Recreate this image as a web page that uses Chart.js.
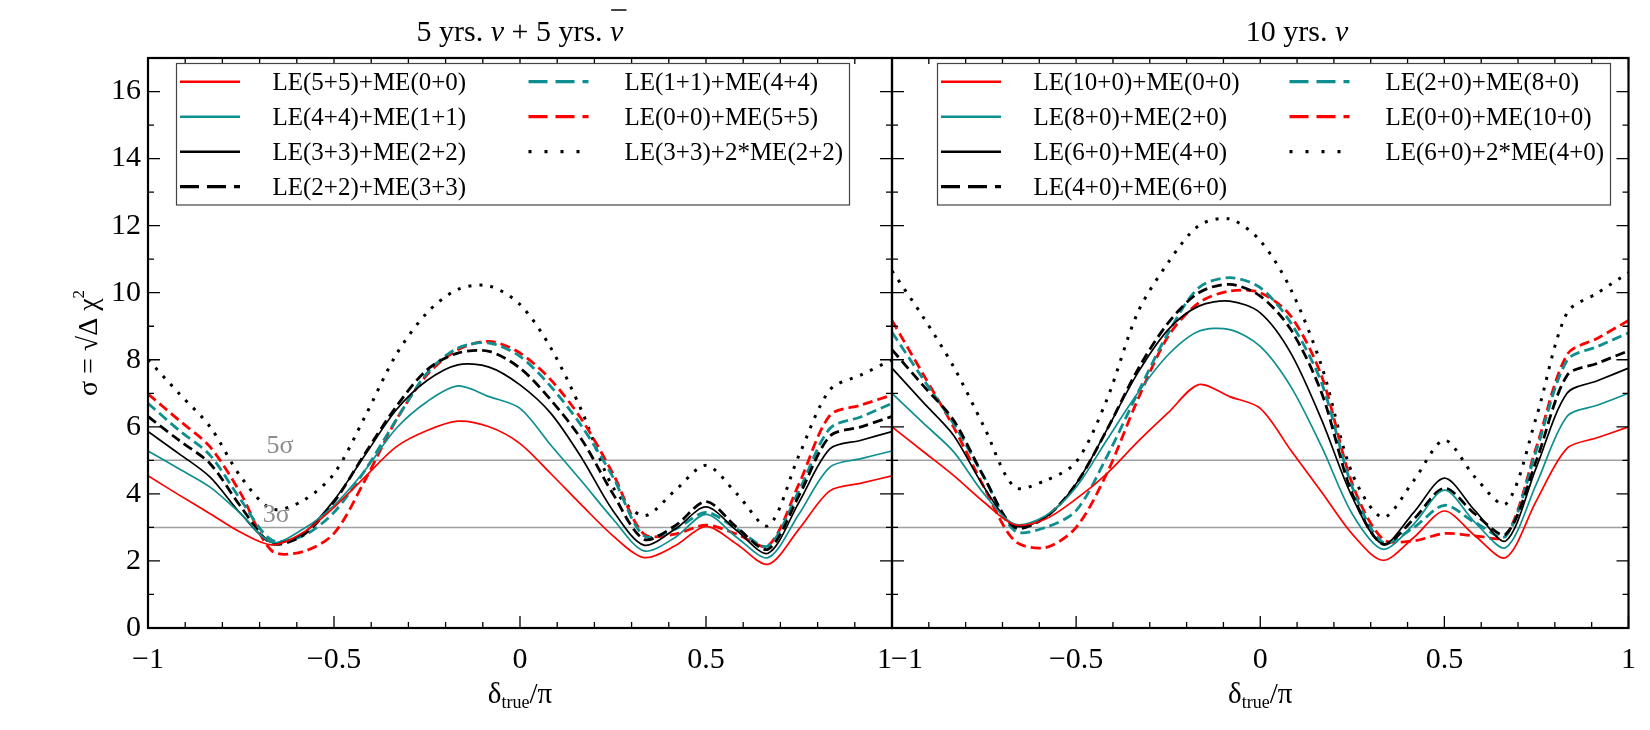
<!DOCTYPE html>
<html>
<head>
<meta charset="utf-8">
<script src="https://cdn.jsdelivr.net/npm/chart.js@4/dist/chart.umd.min.js"></script>
<style>
  html, body { margin: 0; padding: 0; background: #fff; }
  #wrap { position: relative; width: 1650px; height: 730px; }
  #wrap canvas { position: absolute; left: 0; top: 0; }
</style>
</head>
<body>
<div id="wrap">
  <canvas id="left" width="1650" height="730"></canvas>
  <canvas id="right" width="1650" height="730"></canvas>
</div>
<script>
// delta_true / pi sample points
const deltaX = [-1, -0.917, -0.833, -0.75, -0.667, -0.583, -0.5, -0.417, -0.333, -0.25, -0.167, -0.083,
  0, 0.083, 0.167, 0.25, 0.333, 0.417, 0.5, 0.583, 0.667, 0.75, 0.833, 0.917, 1];

// left panel: 5 yrs nu + 5 yrs nubar
const leftLabels = ['LE(5+5)+ME(0+0)', 'LE(4+4)+ME(1+1)', 'LE(3+3)+ME(2+2)', 'LE(2+2)+ME(3+3)',
  'LE(1+1)+ME(4+4)', 'LE(0+0)+ME(5+5)', 'LE(3+3)+2*ME(2+2)'];
const leftLE55 = [4.54, 3.97, 3.41, 2.85, 2.48, 2.85, 3.6, 4.5, 5.4, 5.89, 6.17, 6.0, 5.5, 4.6, 3.65, 2.75, 2.1, 2.45, 3.03, 2.5, 1.9, 2.95, 4.09, 4.32, 4.54];
const leftLE44 = [5.28, 4.75, 4.2, 3.4, 2.55, 2.95, 3.66, 4.7, 5.95, 6.75, 7.22, 6.9, 6.55, 5.45, 4.36, 3.25, 2.3, 2.7, 3.39, 2.7, 2.1, 3.4, 4.8, 5.05, 5.28];
const leftLE33 = [5.86, 5.2, 4.5, 3.4, 2.55, 2.82, 3.81, 5.15, 6.5, 7.38, 7.85, 7.78, 7.25, 6.4, 5.05, 3.5, 2.47, 2.95, 3.61, 2.9, 2.23, 3.75, 5.34, 5.6, 5.86];
const leftLE22 = [6.31, 5.6, 4.9, 3.61, 2.52, 2.77, 3.76, 5.2, 6.6, 7.7, 8.2, 8.25, 7.75, 6.8, 5.6, 4.0, 2.65, 3.05, 3.77, 3.0, 2.35, 3.95, 5.72, 6.0, 6.31];
const leftLE11 = [6.7, 5.9, 5.15, 3.81, 2.62, 2.75, 3.45, 4.7, 6.2, 7.6, 8.35, 8.5, 8.1, 7.2, 6.0, 4.5, 2.75, 2.95, 3.45, 2.95, 2.45, 4.1, 5.95, 6.3, 6.7];
const leftLE00 = [6.98, 6.2, 5.4, 4.0, 2.3, 2.28, 2.82, 4.4, 6.2, 7.55, 8.3, 8.55, 8.2, 7.4, 6.2, 4.6, 2.8, 2.8, 3.07, 2.8, 2.45, 4.3, 6.34, 6.65, 6.95];
const leftDouble = [8.0, 7.0, 6.0, 4.5, 3.55, 3.8, 4.6, 6.3, 8.15, 9.4, 10.1, 10.2, 9.65, 8.35, 6.45, 4.2, 3.35, 4.1, 4.85, 4.0, 3.05, 5.15, 7.1, 7.55, 8.0];

// right panel: 10 yrs nu
const rightLabels = ['LE(10+0)+ME(0+0)', 'LE(8+0)+ME(2+0)', 'LE(6+0)+ME(4+0)', 'LE(4+0)+ME(6+0)',
  'LE(2+0)+ME(8+0)', 'LE(0+0)+ME(10+0)', 'LE(6+0)+2*ME(4+0)'];
const rightLE10 = [6.0, 5.28, 4.55, 3.75, 3.08, 3.25, 3.85, 4.6, 5.55, 6.42, 7.26, 6.9, 6.55, 5.3, 4.05, 2.8, 2.02, 2.7, 3.49, 2.75, 2.1, 3.8, 5.36, 5.68, 6.0];
const rightLE8 = [7.0, 6.13, 5.26, 4.0, 3.1, 3.35, 4.2, 5.6, 7.0, 8.15, 8.85, 8.9, 8.4, 7.2, 5.4, 3.4, 2.35, 3.1, 4.11, 3.15, 2.4, 4.3, 6.31, 6.65, 7.0];
const rightLE6 = [7.75, 6.75, 5.75, 4.2, 3.05, 3.3, 4.3, 5.9, 7.6, 8.9, 9.6, 9.75, 9.4, 8.2, 6.2, 3.9, 2.5, 3.45, 4.47, 3.5, 2.6, 4.8, 7.0, 7.38, 7.75];
const rightLE4 = [8.3, 7.25, 6.2, 4.5, 3.0, 3.3, 4.3, 5.9, 7.7, 9.1, 10.0, 10.25, 9.9, 8.9, 7.0, 4.0, 2.5, 3.25, 4.17, 3.4, 2.8, 5.0, 7.53, 7.9, 8.27];
const rightLE2 = [8.82, 7.45, 6.1, 4.5, 2.9, 3.0, 3.5, 5.1, 7.0, 8.8, 10.15, 10.45, 10.15, 9.1, 7.3, 4.2, 2.55, 3.0, 3.66, 3.15, 2.74, 5.3, 7.98, 8.4, 8.8];
const rightLE0 = [9.17, 7.6, 6.0, 4.2, 2.6, 2.4, 3.0, 4.6, 6.8, 8.7, 9.7, 10.05, 10.0, 9.3, 7.5, 4.3, 2.65, 2.6, 2.82, 2.75, 2.75, 5.4, 8.15, 8.65, 9.17];
const rightDouble = [10.65, 9.3, 7.8, 6.0, 4.2, 4.4, 4.95, 6.8, 9.4, 10.9, 12.0, 12.2, 11.55, 10.1, 7.8, 4.6, 3.3, 4.4, 5.6, 4.5, 3.7, 6.3, 9.4, 10.0, 10.6];

// axes
const xTickValues = [-1, -0.5, 0, 0.5, 1];
const xTickLabelsLeft = ['\u22121', '\u22120.5', '0', '0.5', '1\u2002'];
const xTickLabelsRight = ['\u2003\u22121', '\u22120.5', '0', '0.5', '1'];
const yTickValues = [0, 2, 4, 6, 8, 10, 12, 14, 16];
const yTickLabels = ['0', '2', '4', '6', '8', '10', '12', '14', '16'];
const sigmaLevels = [5, 3];
const sigmaLabels = ['5\u03c3', '3\u03c3'];
const sigmaLabelPos = [[-0.645, 5.42], [-0.655, 3.36]];

const FONT = '"Liberation Serif", "DejaVu Serif", serif';
const TEAL = '#0e8f8f';
const styles = [
  { color: '#ff0000', width: 1.7, dash: [], legendDash: [] },
  { color: TEAL, width: 1.7, dash: [], legendDash: [] },
  { color: '#000000', width: 1.7, dash: [], legendDash: [] },
  { color: '#000000', width: 2.8, dash: [10, 5], legendDash: [19, 8] },
  { color: TEAL, width: 2.8, dash: [10, 5], legendDash: [19, 8] },
  { color: '#ff0000', width: 2.8, dash: [10, 5], legendDash: [19, 8] },
  { color: '#000000', width: 3, dash: [3, 8], legendDash: [3, 13] }
];

function drawRuns(ctx, runs, cx, baseline) {
  let total = 0;
  runs.forEach(r => { ctx.font = r.font; r.w = ctx.measureText(r.text).width; total += r.w; });
  let x = cx - total / 2;
  runs.forEach(r => {
    ctx.font = r.font;
    ctx.fillText(r.text, x, baseline + (r.dy || 0));
    if (r.bar) {
      ctx.save();
      ctx.strokeStyle = '#444';
      ctx.lineWidth = 2;
      ctx.beginPath();
      ctx.moveTo(x + 1, r.bar); ctx.lineTo(x + r.w + 3, r.bar);
      ctx.stroke();
      ctx.restore();
    }
    x += r.w;
  });
}

const framePlugin = {
  id: 'frame',
  beforeDatasetsDraw(chart) {
    const { ctx, chartArea: a, scales: { y } } = chart;
    ctx.save();
    ctx.strokeStyle = '#a0a0a0';
    ctx.lineWidth = 1.5;
    sigmaLevels.forEach(v => {
      const py = y.getPixelForValue(v);
      ctx.beginPath(); ctx.moveTo(a.left, py); ctx.lineTo(a.right, py); ctx.stroke();
    });
    ctx.restore();
  },
  afterDraw(chart) {
    const { ctx, chartArea: a, scales: { x, y } } = chart;
    const o = chart.options.plugins.frame;
    ctx.save();
    // ticks, pointing inward
    ctx.strokeStyle = '#000';
    ctx.lineWidth = 1.3;
    ctx.beginPath();
    for (let k = -10; k <= 10; k++) {
      const px = x.getPixelForValue(k / 10);
      const len = k % 5 === 0 ? 12 : 6;
      ctx.moveTo(px, a.bottom); ctx.lineTo(px, a.bottom - len);
      ctx.moveTo(px, a.top); ctx.lineTo(px, a.top + len);
    }
    for (let v = 0; v <= 17; v++) {
      const py = y.getPixelForValue(v);
      const len = v % 2 === 0 ? 12 : 6;
      ctx.moveTo(a.left, py); ctx.lineTo(a.left + len, py);
      ctx.moveTo(a.right, py); ctx.lineTo(a.right - len, py);
    }
    ctx.stroke();

    // frame
    ctx.lineWidth = 2.2;
    ctx.strokeRect(a.left, a.top, a.right - a.left, a.bottom - a.top);

    // sigma labels
    if (o.sigmaText) {
      ctx.fillStyle = '#8c8c8c';
      ctx.font = '26px ' + FONT;
      ctx.textAlign = 'center';
      ctx.textBaseline = 'middle';
      sigmaLabels.forEach((t, i) => {
        ctx.fillText(t, x.getPixelForValue(sigmaLabelPos[i][0]), y.getPixelForValue(sigmaLabelPos[i][1]));
      });
    }

    // legend box, two columns
    const lx = a.left + o.legendLeft, ly = a.top + 5.5, lw = 673, lh = 141.5;
    ctx.fillStyle = '#fff';
    ctx.fillRect(lx, ly, lw, lh);
    ctx.strokeStyle = '#444';
    ctx.lineWidth = 1.2;
    ctx.strokeRect(lx, ly, lw, lh);
    ctx.font = '25px ' + FONT;
    ctx.textAlign = 'left';
    ctx.textBaseline = 'middle';
    chart.data.datasets.forEach((ds, i) => {
      const col = i < 4 ? 0 : 1;
      const row = i < 4 ? i : i - 4;
      const cy = ly + 18.2 + row * 35;
      const x0 = lx + (col ? 352 : 3.5);
      const st = styles[i];
      ctx.save();
      ctx.strokeStyle = st.color;
      ctx.lineWidth = st.dash.length ? 3.2 : 2.6;
      ctx.setLineDash(st.legendDash);
      ctx.beginPath(); ctx.moveTo(x0, cy); ctx.lineTo(x0 + 60, cy); ctx.stroke();
      ctx.restore();
      ctx.fillStyle = '#000';
      ctx.fillText(ds.label, lx + (col ? 448 : 96), cy + 1.5);
    });

    // panel title
    ctx.fillStyle = '#000';
    ctx.textBaseline = 'alphabetic';
    ctx.textAlign = 'left';
    drawRuns(ctx, o.titleRuns, x.getPixelForValue(o.titleX), 41);

    // x axis title: delta_true / pi
    drawRuns(ctx, [
      { text: '\u03b4', font: '29px ' + FONT },
      { text: 'true', font: '18px ' + FONT, dy: 5 },
      { text: '/\u03c0', font: '29px ' + FONT }
    ], (a.left + a.right) / 2, 703);

    // y axis title
    if (o.yTitle) {
      ctx.save();
      ctx.translate(97, y.getPixelForValue(8.5));
      ctx.rotate(-Math.PI / 2);
      drawRuns(ctx, [
        { text: '\u03c3 = \u221a\u0394 \u03c7', font: '28px ' + FONT },
        { text: '2', font: '17px ' + FONT, dy: -13 }
      ], 0, 0);
      ctx.restore();
    }
    ctx.restore();
  }
};

function makeChart(id, series, labels, opts) {
  return new Chart(document.getElementById(id), {
    type: 'line',
    data: {
      datasets: series.map((ys, i) => ({
        label: labels[i],
        data: deltaX.map((v, j) => ({ x: v, y: ys[j] })),
        borderColor: styles[i].color,
        borderWidth: styles[i].width,
        borderDash: styles[i].dash,
        pointRadius: 0,
        tension: 0.3,
        fill: false
      }))
    },
    options: {
      responsive: false,
      animation: false,
      layout: { padding: opts.padding },
      plugins: {
        legend: { display: false },
        tooltip: { enabled: false },
        frame: opts.frame
      },
      scales: {
        x: {
          type: 'linear', min: -1, max: 1,
          grid: { display: false, drawTicks: false },
          border: { display: false },
          afterBuildTicks: s => { s.ticks = xTickValues.map(v => ({ value: v })); },
          afterFit: s => { s.height = 102; },
          ticks: {
            autoSkip: false, maxRotation: 0, padding: 14, color: '#000',
            font: { family: FONT, size: 30 },
            callback: v => opts.xTickLabels[xTickValues.indexOf(v)]
          }
        },
        y: {
          min: 0, max: 17,
          display: opts.showY,
          grid: { display: false, drawTicks: false },
          border: { display: false },
          afterBuildTicks: s => { s.ticks = yTickValues.map(v => ({ value: v })); },
          afterFit: s => { s.width = opts.yWidth; },
          ticks: {
            padding: 7, color: '#000',
            font: { family: FONT, size: 30 },
            callback: v => yTickLabels[yTickValues.indexOf(v)]
          }
        }
      }
    },
    plugins: [framePlugin]
  });
}

const italic = 'italic 30px ' + FONT, normal = '30px ' + FONT;

makeChart('left',
  [leftLE55, leftLE44, leftLE33, leftLE22, leftLE11, leftLE00, leftDouble], leftLabels, {
  padding: { left: 0, right: 758, top: 58, bottom: 0 },
  showY: true, yWidth: 148,
  xTickLabels: xTickLabelsLeft,
  frame: {
    legendLeft: 28.5, sigmaText: true, yTitle: true, titleX: 0,
    titleRuns: [
      { text: '5 yrs. ', font: normal }, { text: '\u03bd', font: italic },
      { text: ' + 5 yrs. ', font: normal }, { text: '\u03bd', font: italic, bar: 10 }
    ]
  }
});

makeChart('right',
  [rightLE10, rightLE8, rightLE6, rightLE4, rightLE2, rightLE0, rightDouble], rightLabels, {
  padding: { left: 892, right: 12, top: 58, bottom: 0 },
  showY: false, yWidth: 0,
  xTickLabels: xTickLabelsRight,
  frame: {
    legendLeft: 45.5, sigmaText: false, yTitle: false, titleX: 0.1,
    titleRuns: [{ text: '10 yrs. ', font: normal }, { text: '\u03bd', font: italic }]
  }
});
</script>
</body>
</html>
